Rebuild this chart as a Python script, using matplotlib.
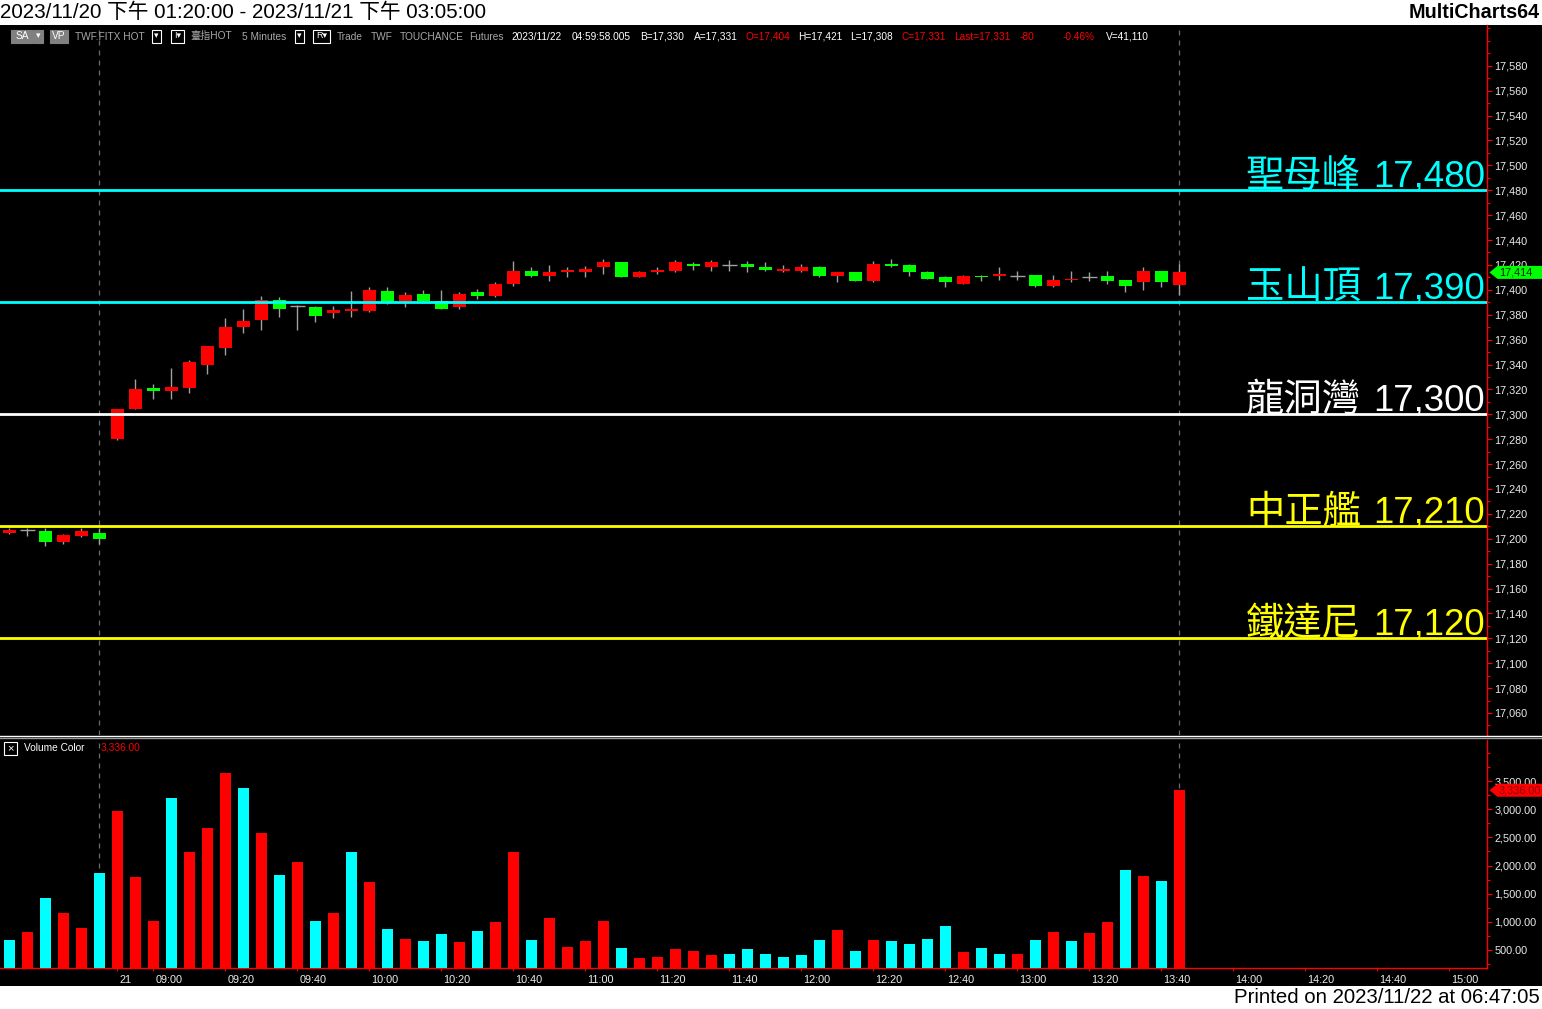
import matplotlib
matplotlib.use('Agg')
import matplotlib.pyplot as plt
import matplotlib.transforms as mtransforms
from matplotlib.patches import Rectangle, Polygon
from matplotlib.lines import Line2D
from matplotlib.ticker import FuncFormatter, MultipleLocator
import numpy as np
import pandas as pd

# ---------------- data ----------------
session1_times = pd.date_range('2023-11-20 13:20', '2023-11-20 13:45', freq='5min')
session2_times = pd.date_range('2023-11-21 08:50', '2023-11-21 13:45', freq='5min')
bar_times = list(session1_times) + list(session2_times)

opens = [17205, 17207, 17206, 17197, 17202, 17205,
         17280, 17304, 17321, 17319, 17321, 17340, 17353, 17370, 17376, 17392,
         17387, 17386, 17381, 17383, 17383, 17399, 17391, 17397, 17391, 17386,
         17398, 17395, 17405, 17415, 17411, 17414, 17414, 17418, 17422, 17410,
         17414, 17415, 17421, 17418, 17420, 17421, 17418, 17415, 17415, 17418,
         17411, 17414, 17407, 17421, 17420, 17414, 17410, 17405, 17411, 17411,
         17411, 17412, 17403, 17408, 17410, 17411, 17408, 17406, 17415, 17404]
highs = [17209, 17209, 17209, 17204, 17209, 17209,
         17304, 17328, 17324, 17337, 17344, 17355, 17377, 17385, 17395, 17394,
         17388, 17387, 17387, 17399, 17402, 17402, 17398, 17400, 17400, 17398,
         17401, 17406, 17423, 17418, 17420, 17418, 17419, 17425, 17422, 17415,
         17418, 17424, 17422, 17424, 17424, 17423, 17422, 17420, 17421, 17419,
         17414, 17414, 17423, 17425, 17421, 17415, 17411, 17412, 17412, 17418,
         17415, 17412, 17412, 17415, 17414, 17415, 17408, 17418, 17415, 17421]
lows = [17204, 17202, 17194, 17196, 17201, 17196,
        17279, 17304, 17312, 17312, 17317, 17332, 17348, 17365, 17368, 17378,
        17368, 17374, 17377, 17378, 17382, 17389, 17386, 17390, 17385, 17385,
        17393, 17394, 17403, 17410, 17407, 17410, 17410, 17413, 17410, 17410,
        17413, 17414, 17416, 17415, 17415, 17414, 17415, 17414, 17414, 17410,
        17406, 17407, 17406, 17418, 17411, 17409, 17402, 17405, 17407, 17408,
        17408, 17402, 17402, 17406, 17407, 17405, 17398, 17400, 17402, 17396]
closes = [17207, 17207, 17197, 17203, 17206, 17200,
          17304, 17320, 17319, 17322, 17342, 17355, 17370, 17375, 17392, 17385,
          17387, 17379, 17384, 17385, 17400, 17390, 17396, 17391, 17385, 17397,
          17395, 17405, 17415, 17411, 17414, 17416, 17417, 17422, 17410, 17414,
          17416, 17422, 17419, 17422, 17420, 17418, 17416, 17417, 17418, 17411,
          17414, 17407, 17421, 17419, 17414, 17409, 17406, 17411, 17410, 17413,
          17411, 17403, 17408, 17409, 17410, 17407, 17403, 17415, 17406, 17414]

volumes = [677, 819, 1423, 1157, 890, 1867,
           2967, 1796, 1015, 3198, 2239, 2665, 3642, 3375, 2577, 1831,
           2062, 1015, 1157, 2239, 1707, 873, 695, 660, 784, 642,
           837, 997, 2239, 677, 1068, 553, 660, 1015, 535, 358,
           376, 518, 482, 411, 429, 518, 429, 376, 411, 677,
           855, 482, 677, 660, 606, 695, 926, 464, 535, 429,
           429, 677, 819, 660, 802, 997, 1920, 1813, 1725, 3336]
# 'r' = red volume bar, 'c' = cyan volume bar
volume_color_flags = list('crcrrc' 'rrrcrrrcrcrcrcrcrccrcr' 'rcrrrrcrrrrrcccccc' 'rcrccccrccrcrcrrcr')

levels = [17480, 17390, 17300, 17210, 17120]
level_names = ['聖母峰', '玉山頂', '龍洞灣', '中正艦', '鐵達尼']
level_colors = ['#00ffff', '#00ffff', '#ffffff', '#ffff00', '#ffff00']

xtick_labels = ['21', '09:00', '09:20', '09:40', '10:00', '10:20', '10:40', '11:00',
                '11:20', '11:40', '12:00', '12:20', '12:40', '13:00', '13:20', '13:40',
                '14:00', '14:20', '14:40', '15:00']
xtick_times = ['08:50', '09:00', '09:20', '09:40', '10:00', '10:20', '10:40', '11:00',
               '11:20', '11:40', '12:00', '12:20', '12:40', '13:00', '13:20', '13:40',
               '14:00', '14:20', '14:40', '15:00']

price_ticks = list(range(17060, 17581, 20))
volume_ticks = [500, 1000, 1500, 2000, 2500, 3000, 3500]
last_price = 17414
last_volume = 3336

title_text = '2023/11/20 下午 01:20:00 - 2023/11/21 下午 03:05:00'
brand_text = 'MultiCharts64'
printed_text = 'Printed on 2023/11/22 at 06:47:05'

# ---------------- figure ----------------
W, H = 1542, 1009
DPI = 100
fig = plt.figure(figsize=(W / DPI, H / DPI), dpi=DPI)
fig.patch.set_facecolor('white')

def fx(x):
    return x / W

def fy(y):
    return 1 - y / H

SANS = ['Liberation Sans', 'Noto Sans CJK TC', 'DejaVu Sans']
NARROW = ['Liberation Sans Narrow', 'Liberation Sans', 'Noto Sans CJK TC', 'DejaVu Sans']
CJK = ['Noto Sans CJK TC', 'DejaVu Sans']

fig.add_artist(Rectangle((0, fy(985.5)), 1, (985.5 - 25) / H, transform=fig.transFigure,
                         facecolor='black', edgecolor='none', zorder=-5))

AX_RIGHT = 1487.3
x_left = -0.517
x_right = 82.11

ax = fig.add_axes([0, fy(735), fx(AX_RIGHT), (735 - 25) / H])
vax = fig.add_axes([0, fy(968.3), fx(AX_RIGHT), (968.3 - 740) / H])
for a in (ax, vax):
    a.set_facecolor('black')
    a.set_xlim(x_left, x_right)
    for s in ('left', 'top', 'bottom', 'right'):
        a.spines[s].set_visible(False)
    a.spines['right'].set_visible(True)
    a.spines['right'].set_color('#ff0000')
    a.spines['right'].set_linewidth(1.0)
    a.yaxis.tick_right()
    a.tick_params(axis='y', which='both', colors='#ff0000', labelcolor='#ececec',
                  labelsize=7.8, pad=1.5, width=0.8)
    a.tick_params(axis='y', which='major', length=3.5)
    a.tick_params(axis='y', which='minor', length=2)

ax.set_ylim(17042.3, 17612.8)
vax.set_ylim(175, 4228)

# price axis
ax.set_xticks([])
ax.set_yticks(price_ticks)
ax.yaxis.set_major_formatter(FuncFormatter(lambda v, p: f'{int(round(v)):,}'))
ax.yaxis.set_minor_locator(MultipleLocator(10))
for lab in ax.get_yticklabels():
    lab.set_family(SANS)

# candles
x = np.arange(len(bar_times))
o = np.array(opens); h = np.array(highs); l = np.array(lows); c = np.array(closes)
ax.vlines(x, l, h, color='#a0a0a0', lw=1.0, zorder=3)
body_w = 0.72
for i in range(len(x)):
    if o[i] == c[i]:
        ax.hlines(o[i], x[i] - 0.4, x[i] + 0.4, color='#a0a0a0', lw=1.0, zorder=4)
    else:
        col = '#ff0000' if c[i] > o[i] else '#00ff00'
        lo, hi = min(o[i], c[i]), max(o[i], c[i])
        ax.bar(x[i], hi - lo, bottom=lo, width=body_w, color=col, edgecolor='none',
               linewidth=0, zorder=4)

# levels: name and value
name_off = mtransforms.ScaledTranslation(-(AX_RIGHT - 1361) / DPI, 2.5 / 72, fig.dpi_scale_trans)
val_off = mtransforms.ScaledTranslation(-2 / DPI, 2.5 / 72, fig.dpi_scale_trans)
for lev, name, col in zip(levels, level_names, level_colors):
    ax.axhline(lev, color=col, lw=2.0, zorder=5)
    tr = mtransforms.blended_transform_factory(ax.transAxes, ax.transData)
    ax.text(1, lev, f'{lev:,}', transform=tr + val_off, ha='right', va='baseline',
            color=col, fontsize=26.4, family=SANS, zorder=6)
    ax.text(1, lev, name, transform=tr + name_off, ha='right', va='baseline',
            color=col, fontsize=27.6, family=CJK, weight='light', zorder=6)

# session dashed lines
for a in (ax, vax):
    for xi in (5, 65):
        a.axvline(xi, color='#6a6a6a', lw=0.9, dashes=(4, 4), zorder=1)

# volume
vcols = ['#ff0000' if f == 'r' else '#00ffff' for f in volume_color_flags]
vax.bar(x, volumes, width=0.61, color=vcols, edgecolor='none', linewidth=0, zorder=3)
vax.spines['bottom'].set_visible(True)
vax.spines['bottom'].set_color('#ff0000')
vax.spines['bottom'].set_linewidth(1.0)
vax.set_yticks(volume_ticks)
vax.yaxis.set_major_formatter(FuncFormatter(lambda v, p: f'{v:,.2f}'))
vax.yaxis.set_minor_locator(MultipleLocator(250))
for lab in vax.get_yticklabels():
    lab.set_family(SANS)

base = pd.Timestamp('2023-11-21 08:50')
tick_pos = [len(session1_times) + (pd.Timestamp('2023-11-21 ' + t) - base) / pd.Timedelta('5min')
            for t in xtick_times]
vax.set_xticks(tick_pos)
vax.set_xticklabels(xtick_labels)
vax.tick_params(axis='x', colors='#ff0000', labelcolor='#ececec', labelsize=7.8,
                length=2.5, width=0.8, pad=2.5)
off = mtransforms.ScaledTranslation(2.2 / DPI, 0, fig.dpi_scale_trans)
for lab in vax.get_xticklabels():
    lab.set_ha('left')
    lab.set_family(SANS)
    lab.set_transform(lab.get_transform() + off)

# divider between panels
fig.add_artist(Line2D([0, 1], [fy(735.6)] * 2, transform=fig.transFigure, color='#ffffff', lw=1.0))
fig.add_artist(Line2D([0, 1], [fy(737.8)] * 2, transform=fig.transFigure, color='#9a9a9a', lw=1.0))

# last value tags
def tag(axis, value, label, fc, tc, half_px=6.5):
    yd = axis.transData.transform((0, value))[1]
    ypx = H - yd
    pts = [(1489.5, ypx), (1497.5, ypx - half_px), (1542, ypx - half_px),
           (1542, ypx + half_px), (1497.5, ypx + half_px)]
    poly = Polygon([(fx(px_), fy(py_)) for px_, py_ in pts], closed=True,
                   transform=fig.transFigure, facecolor=fc, edgecolor='none', zorder=10)
    fig.add_artist(poly)
    fig.text(fx(1499), fy(ypx), label, color=tc, fontsize=7.8, family=SANS,
             ha='left', va='center', zorder=11)

tag(ax, last_price, f'{last_price:,}', '#00ff00', '#002200')
tag(vax, last_volume, f'{last_volume:,.2f}', '#ff0000', '#8a0000')

# top / bottom strip texts
fig.text(fx(0), fy(12.5), title_text, fontsize=14.9, family=SANS, color='black',
         ha='left', va='center')
fig.text(fx(1540), fy(12.5), brand_text, fontsize=14.2, family=SANS, weight='bold',
         color='black', ha='right', va='center')
fig.text(fx(1540), fy(997.5), printed_text, fontsize=14.7, family=SANS, color='black',
         ha='right', va='center')

# chart header line
HY = 36
def box(x0, x1, fc, ec, label=None, tcol='white', fs=7.3):
    fig.add_artist(Rectangle((fx(x0), fy(42.5)), fx(x1 - x0), 12.5 / H, transform=fig.transFigure,
                             facecolor=fc, edgecolor=ec, lw=0.8, zorder=8))
    if label:
        fig.text(fx((x0 + x1) / 2), fy(HY), label, color=tcol, fontsize=fs, family=SANS,
                 ha='center', va='center', zorder=9)

box(10.7, 33.3, '#808080', '#808080', 'SA')
box(34.3, 42.7, '#808080', '#808080', '▾', fs=6.5)
box(50, 68.3, '#808080', '#808080', 'VP')
box(151.7, 161.3, 'black', 'white', '▾', fs=6.5)
box(170.7, 184, 'black', 'white', 'I▾', fs=6.5)
box(294.7, 304.3, 'black', 'white', '▾', fs=6.5)
box(313, 330, 'black', 'white', 'R▾', fs=6.5)

GRAY = '#a8a8a8'
header_pieces = [
    (75.3, 'TWF.FITX HOT', GRAY), (190, '臺指HOT', GRAY), (241.7, '5 Minutes', GRAY),
    (337, 'Trade', GRAY), (370.8, 'TWF', GRAY), (399.3, 'TOUCHANCE', GRAY), (469, 'Futures', GRAY),
    (511, '2023/11/22', 'white'), (571.7, '04:59:58.005', 'white'), (640, 'B=17,330', 'white'),
    (694, 'A=17,331', 'white'), (745, 'O=17,404', '#ff0000'), (798.6, 'H=17,421', 'white'),
    (850, 'L=17,308', 'white'), (902, 'C=17,331', '#ff0000'), (953.7, 'Last=17,331', '#ff0000'),
    (1020, '-80', '#ff0000'), (1063, '-0.46%', '#ff0000'), (1106, 'V=41,110', 'white'),
]
for px_, s, col in header_pieces:
    fig.text(fx(px_), fy(HY + 0.5), s, color=col, fontsize=7.3, family=NARROW,
             ha='left', va='center', zorder=9)

# volume panel header
fig.add_artist(Rectangle((fx(4.2), fy(754.5)), fx(13), 13 / H, transform=fig.transFigure,
                         facecolor='black', edgecolor='white', lw=0.8, zorder=8))
fig.text(fx(10.7), fy(748), '×', color='white', fontsize=8, family=SANS,
         ha='center', va='center', zorder=9)
fig.text(fx(24.5), fy(748), 'Volume Color', color='white', fontsize=7.3, family=NARROW,
         ha='left', va='center', zorder=9)
fig.text(fx(100.3), fy(748), f'{last_volume:,.2f}', color='#ff0000', fontsize=7.3,
         family=NARROW, ha='left', va='center', zorder=9)

fig.savefig('out.png', dpi=DPI, facecolor=fig.get_facecolor())
